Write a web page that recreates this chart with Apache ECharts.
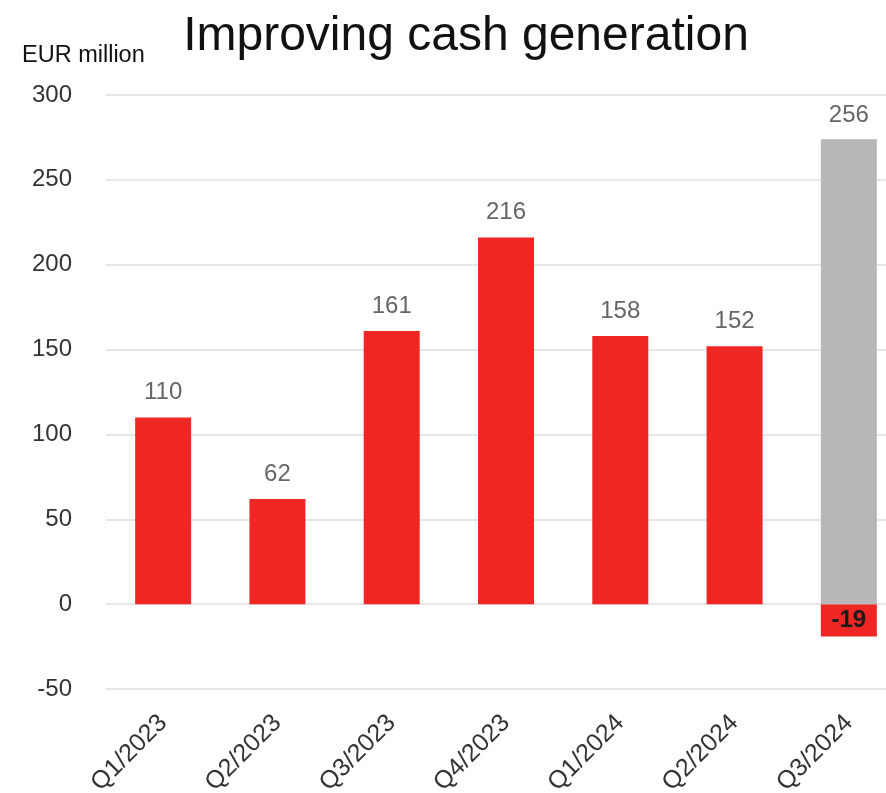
<!DOCTYPE html>
<html>
<head>
<meta charset="utf-8">
<script src="https://cdn.jsdelivr.net/npm/echarts@6/dist/echarts.min.js"></script>
<style>html,body{margin:0;padding:0;background:#fff;overflow:hidden}#c{width:906px;height:793px}</style>
</head>
<body>
<div id="c"></div>
<script>
const categories = ['Q1/2023','Q2/2023','Q3/2023','Q4/2023','Q1/2024','Q2/2024','Q3/2024'];
const redValues = [110, 62, 161, 216, 158, 152, -19];
const grayValues = [null, null, null, null, null, null, 274];
const grayLabels = ['', '', '', '', '', '', '256'];
const yTicks = { min: -50, max: 300, interval: 50 };

const chart = echarts.init(document.getElementById('c'), null, { renderer: 'canvas' });
const font = '"Liberation Sans", Arial, sans-serif';

chart.setOption({
  animation: false,
  title: {
    text: 'Improving cash generation',
    left: 461, top: 8, textAlign: 'center',
    textStyle: { fontFamily: font, fontSize: 48, fontWeight: 'normal', color: '#111' }
  },
  graphic: [{
    type: 'text', left: 22, top: 44,
    style: { text: 'EUR million', fontFamily: font, fontSize: 23.5, fill: '#111' }
  }],
  grid: { left: 106, right: 0, top: 95, bottom: 104, containLabel: false, outerBoundsMode: 'none' },
  xAxis: {
    type: 'category', data: categories,
    axisLine: { show: false }, axisTick: { show: false },
    axisLabel: { rotate: 45, fontFamily: font, fontSize: 25, color: '#333', margin: 30, interval: 0 }
  },
  yAxis: {
    type: 'value', min: yTicks.min, max: yTicks.max, interval: yTicks.interval,
    axisLine: { show: false }, axisTick: { show: false },
    axisLabel: { fontFamily: font, fontSize: 24, color: '#333', margin: 34 },
    splitLine: { lineStyle: { color: '#e6e6e6', width: 2 } }
  },
  series: [
    {
      type: 'bar', stack: 's', barWidth: '49%',
      itemStyle: { color: '#ee2724' },
      data: redValues.map(v => v < 0 ? {
        value: v,
        label: { show: true, position: 'inside', color: '#1a1a1a', fontWeight: 'bold', fontSize: 24 }
      } : v),
      label: { show: true, position: 'top', distance: 13, fontFamily: font, fontSize: 24, color: '#666' }
    },
    {
      type: 'bar', stack: 's', barWidth: '49%',
      itemStyle: { color: '#b7b7b7' },
      data: grayValues,
      label: { show: true, position: 'top', distance: 12, fontFamily: font, fontSize: 24, color: '#666',
        formatter: p => grayLabels[p.dataIndex] }
    }
  ]
});
</script>
</body>
</html>
